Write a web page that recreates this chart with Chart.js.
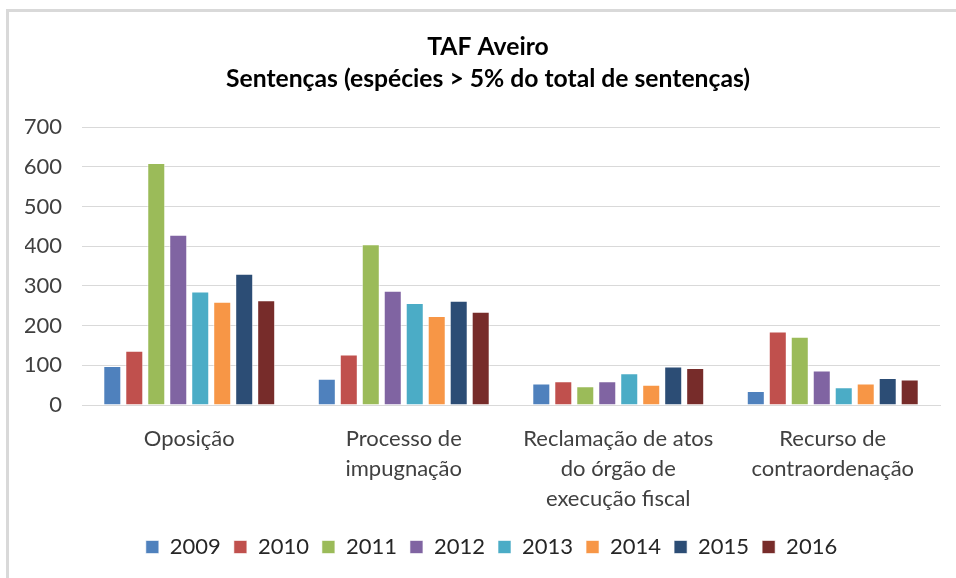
<!DOCTYPE html>
<html>
<head>
<meta charset="utf-8">
<script src="https://cdn.jsdelivr.net/npm/chart.js@4"></script>
<style>
  body { margin: 0; background: #fff; }
  #frame { position: absolute; left: 6px; top: 9px; width: 947px; height: 566px;
           border-left: 3px solid #d9d9d9; border-top: 3px solid #d9d9d9; }
</style>
</head>
<body>
<div id="frame"><canvas id="chart" width="947" height="566"></canvas></div>
<script>
const categories = [
  "Oposição",
  ["Processo de", "impugnação"],
  ["Reclamação de atos", "do órgão de", "execução fiscal"],
  ["Recurso de", "contraordenação"]
];
const years = ["2009", "2010", "2011", "2012", "2013", "2014", "2015", "2016"];
const colors = ["#4f81bd", "#c0504d", "#9bbb59", "#8064a2", "#4bacc6", "#f79646", "#2c4d75", "#772c2a"];

const v2009 = [98, 66, 54, 35];
const v2010 = [137, 127, 60, 185];
const v2011 = [610, 405, 47, 172];
const v2012 = [429, 288, 60, 87];
const v2013 = [286, 257, 80, 45];
const v2014 = [260, 224, 51, 54];
const v2015 = [331, 263, 97, 68];
const v2016 = [264, 235, 93, 64];
const series = [v2009, v2010, v2011, v2012, v2013, v2014, v2015, v2016];

const yTicks = [0, 100, 200, 300, 400, 500, 600, 700];

const font = "Lato, 'Open Sans', sans-serif";

// title and legend sit a little right of the canvas centre in the original
const nudge = {
  id: "nudge",
  afterLayout(chart) {
    chart.titleBlock.left += 5.5;
    chart.titleBlock.right += 5.5;
    chart.legend.left += 9;
    chart.legend.right += 9;
  }
};

new Chart(document.getElementById("chart"), {
  type: "bar",
  data: {
    labels: categories,
    datasets: series.map((d, i) => ({
      label: years[i],
      data: d,
      backgroundColor: colors[i],
      borderColor: "rgba(255,255,255,0.6)",
      borderWidth: 1,
      barPercentage: 0.82,
      categoryPercentage: 0.82
    }))
  },
  plugins: [nudge],
  options: {
    responsive: false,
    animation: false,
    layout: { padding: { left: 16, right: 16, top: 0, bottom: 10 } },
    plugins: {
      title: {
        display: true,
        text: ["TAF Aveiro", "Sentenças (espécies > 5% do total de sentenças)"],
        color: "#000",
        font: { family: font, size: 24.7, weight: "bold", lineHeight: 1.3 },
        padding: { top: 19, bottom: 32 }
      },
      legend: {
        position: "bottom",
        labels: {
          color: "#262626",
          font: { family: font, size: 22 },
          boxWidth: 13,
          boxHeight: 13,
          padding: 13
        }
      },
      tooltip: { enabled: false }
    },
    scales: {
      x: {
        grid: { display: false },
        border: { color: "#d9d9d9" },
        afterFit: axis => { axis.height = 118; },
        ticks: {
          color: "#404040",
          font: { family: font, size: 22, lineHeight: 1.36 },
          padding: 11,
          maxRotation: 0,
          autoSkip: false
        }
      },
      y: {
        min: yTicks[0],
        max: yTicks[yTicks.length - 1],
        afterBuildTicks: axis => { axis.ticks = yTicks.map(v => ({ value: v })); },
        afterFit: axis => { axis.width = 57; },
        grid: { color: "#d9d9d9", drawTicks: false },
        border: { display: false },
        ticks: {
          color: "#404040",
          font: { family: font, size: 22 },
          padding: 20
        }
      }
    }
  }
});
</script>
</body>
</html>
